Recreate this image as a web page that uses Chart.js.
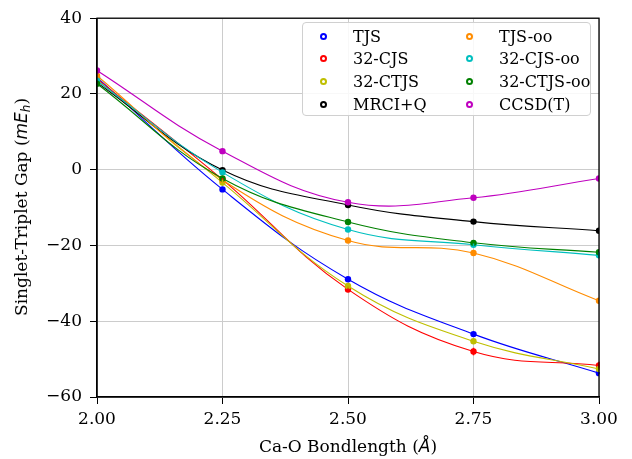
<!DOCTYPE html>
<html>
<head>
<meta charset="utf-8">
<script src="https://cdn.jsdelivr.net/npm/chart.js@4.4.1/dist/chart.umd.min.js"></script>
<style>
  body { margin: 0; background: #fff; }
  #wrap { position: relative; width: 632px; height: 459px; font-family: "DejaVu Serif", serif; color: #000; }
  #plot { position: absolute; left: 0; top: 0; }
  .xtitle { position: absolute; left: 348px; top: 446px; transform: translate(-50%, -50%); font-size: 17px; white-space: nowrap; }
  .ytitle { position: absolute; left: 22px; top: 207px; transform: translate(-50%, -50%) rotate(-90deg); font-size: 17px; white-space: nowrap; }
  .math { font-family: "DejaVu Sans", sans-serif; font-style: italic; }
  .math sub { font-size: 70%; vertical-align: -3px; }
  #legend { position: absolute; left: 302px; top: 22px; width: 289px; height: 94px; box-sizing: border-box;
            border: 1px solid #d0d0d0; border-radius: 4px; background: rgba(255,255,255,0.85);
            display: grid; grid-auto-flow: column; grid-template-rows: repeat(4, 22.6px);
            grid-template-columns: 146px 143px; padding-top: 2px; }
  .item { display: flex; align-items: center; font-size: 16px; white-space: nowrap; }
  .dot { width: 3px; height: 3px; border-radius: 50%; border: 2px solid; margin-left: 17px; margin-right: 26px; }
</style>
</head>
<body>
<div id="wrap">
  <canvas id="plot" width="632" height="459"></canvas>
  <div class="ytitle">Singlet-Triplet Gap (<span class="math">mE<sub>h</sub></span>)</div>
  <div class="xtitle">Ca-O Bondlength (<span class="math">Å</span>)</div>
  <div id="legend"></div>
</div>
<script>
// bond lengths (Å)
const bondLengths = [2.00, 2.25, 2.50, 2.75, 3.00];

// method names and colours
const methods = ['TJS', '32-CJS', '32-CTJS', 'MRCI+Q', 'TJS-oo', '32-CJS-oo', '32-CTJS-oo', 'CCSD(T)'];
const colors = ['#0000ff', '#ff0000', '#bfbf00', '#000000', '#ff8c00', '#00bfbf', '#008000', '#bf00bf'];

// singlet-triplet gaps in mEh
const tjs = [24.4, -5.2, -28.9, -43.4, -53.7];
const cjs32 = [24.0, -2.6, -31.6, -48.0, -51.7];
const ctjs32 = [23.6, -3.4, -30.7, -45.3, -52.6];
const mrciq = [23.0, -0.1, -9.3, -13.7, -16.1];
const tjsOo = [24.8, -2.7, -18.7, -22.0, -34.6];
const cjs32Oo = [23.5, -0.7, -15.8, -19.8, -22.6];
const ctjs32Oo = [22.7, -2.3, -13.8, -19.3, -21.8];
const ccsdt = [26.2, 4.9, -8.6, -7.4, -2.3];

// statistical error bars (mEh)
const tjsErr = [0, 0, 0.3, 0.3, 0.3];
const cjs32Err = [0, 0.4, 0.8, 1.0, 1.0];
const ctjs32Err = [0, 0.8, 0.6, 0.5, 0.4];
const mrciqErr = [0, 0, 0, 0, 0];
const tjsOoErr = [0, 0, 0, 0, 0];
const cjs32OoErr = [0, 0.6, 0.6, 0.3, 0.8];
const ctjs32OoErr = [0, 0, 0, 0, 0];
const ccsdtErr = [0, 0, 0, 0, 0];

const series = [tjs, cjs32, ctjs32, mrciq, tjsOo, cjs32Oo, ctjs32Oo, ccsdt];
const errors = [tjsErr, cjs32Err, ctjs32Err, mrciqErr, tjsOoErr, cjs32OoErr, ctjs32OoErr, ccsdtErr];

// axis ticks
const yTicks = [-60, -40, -20, 0, 20, 40];
const xTicks = [2.00, 2.25, 2.50, 2.75, 3.00];

const datasets = series.map((vals, i) => ({
    label: methods[i],
    data: vals.map((v, j) => ({ x: bondLengths[j], y: v })),
    errors: errors[i],
    borderColor: colors[i],
    backgroundColor: colors[i],
    borderWidth: 1.1,
    pointRadius: 3.2,
    pointBorderWidth: 0,
    tension: 0.4,
    order: series.length - i
}));

// error bars drawn on top of each point
const errorBars = {
    id: 'errorBars',
    afterDatasetsDraw(chart) {
        const ctx = chart.ctx;
        const ys = chart.scales.y;
        ctx.save();
        chart.data.datasets.forEach((ds, i) => {
            const meta = chart.getDatasetMeta(i);
            ctx.strokeStyle = ds.borderColor;
            ctx.lineWidth = 1.5;
            meta.data.forEach((pt, j) => {
                const e = ds.errors[j];
                if (!e) return;
                const y = ds.data[j].y;
                ctx.beginPath();
                ctx.moveTo(pt.x, ys.getPixelForValue(y - e));
                ctx.lineTo(pt.x, ys.getPixelForValue(y + e));
                ctx.stroke();
            });
        });
        ctx.restore();
    }
};

// closed frame round the plot area
const frame = {
    id: 'frame',
    afterDraw(chart) {
        const a = chart.chartArea;
        const ctx = chart.ctx;
        ctx.save();
        ctx.strokeStyle = '#000';
        ctx.lineWidth = 1.3;
        ctx.strokeRect(a.left, a.top, a.right - a.left, a.bottom - a.top);
        ctx.restore();
    }
};

const tickFont = { family: 'DejaVu Serif', size: 17 };

new Chart(document.getElementById('plot'), {
    type: 'line',
    data: { datasets },
    options: {
        responsive: false,
        animation: false,
        devicePixelRatio: 1,
        layout: { padding: { top: 16, right: 33, left: 0, bottom: 0 } },
        plugins: { legend: { display: false }, tooltip: { enabled: false } },
        scales: {
            x: {
                type: 'linear', min: 2, max: 3,
                afterBuildTicks: s => { s.ticks = xTicks.map(v => ({ value: v })); },
                afterFit: s => { s.height = 62; },
                ticks: { font: tickFont, color: '#000', padding: 5, maxRotation: 0,
                         callback: v => v.toFixed(2) },
                grid: { color: '#cccccc', tickColor: '#000', tickLength: 7, lineWidth: 1 },
                border: { color: '#000', width: 1.3 }
            },
            y: {
                min: -60, max: 40,
                afterBuildTicks: s => { s.ticks = yTicks.map(v => ({ value: v })); },
                afterFit: s => { s.width = 97; },
                ticks: { font: tickFont, color: '#000', padding: 8,
                         callback: v => v < 0 ? '\u2212' + Math.abs(v) : String(v) },
                grid: { color: '#cccccc', tickColor: '#000', tickLength: 7, lineWidth: 1 },
                border: { color: '#000', width: 1.3 }
            }
        }
    },
    plugins: [errorBars, frame]
});

// legend in two columns
const legend = document.getElementById('legend');
methods.forEach((name, i) => {
    const item = document.createElement('div');
    item.className = 'item';
    const dot = document.createElement('span');
    dot.className = 'dot';
    dot.style.borderColor = colors[i];
    item.appendChild(dot);
    item.appendChild(document.createTextNode(name));
    legend.appendChild(item);
});
</script>
</body>
</html>
